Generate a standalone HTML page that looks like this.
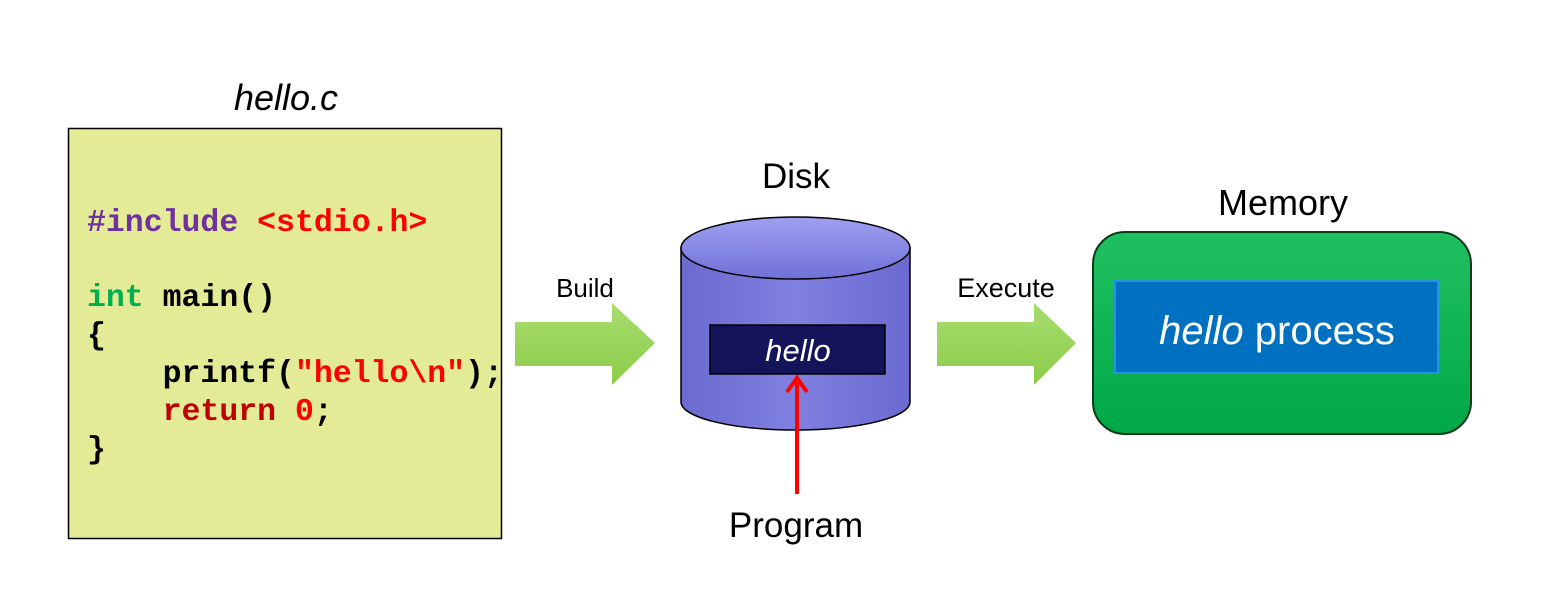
<!DOCTYPE html>
<html><head><meta charset="utf-8"><style>
body{margin:0;background:#fff;}
svg{display:block}
</style></head><body>
<svg width="1556" height="613" viewBox="0 0 1556 613" xmlns="http://www.w3.org/2000/svg">
<defs>
<linearGradient id="cyl" x1="0" x2="1" y1="0" y2="0">
<stop offset="0" stop-color="#6a6ad0"/><stop offset="0.5" stop-color="#8080e0"/><stop offset="1" stop-color="#6a6ad0"/>
</linearGradient>
<linearGradient id="top" x1="0" x2="0" y1="0" y2="1">
<stop offset="0" stop-color="#a0a0f0"/><stop offset="1" stop-color="#7070d8"/>
</linearGradient>
<linearGradient id="grn" x1="0" x2="0" y1="0" y2="1">
<stop offset="0" stop-color="#a8dc70"/><stop offset="1" stop-color="#8ccc48"/>
</linearGradient>
<linearGradient id="mem" x1="0" x2="0" y1="0" y2="1">
<stop offset="0" stop-color="#20c060"/><stop offset="1" stop-color="#00a848"/>
</linearGradient>
</defs>
<rect x="68.5" y="128.5" width="433" height="410" fill="#e4eb96" stroke="#000" stroke-width="1.5"/>
<text x="286" y="110" font-family="Liberation Sans, sans-serif" font-size="36" font-style="italic" text-anchor="middle">hello.c</text>
<g font-family="Liberation Mono, monospace" font-weight="bold" font-size="31.5">
<text x="87" y="231"><tspan fill="#7030a0">#include</tspan> <tspan fill="#ff0000">&lt;stdio.h&gt;</tspan></text>
<text x="87" y="306"><tspan fill="#00b050">int</tspan> <tspan fill="#000">main()</tspan></text>
<text x="87" y="344" fill="#000">{</text>
<text x="87" y="382" fill="#000" xml:space="preserve">    printf(<tspan fill="#ff0000">"hello\n"</tspan>);</text>
<text x="87" y="420" fill="#c00000" xml:space="preserve">    return <tspan fill="#ff0000">0</tspan><tspan fill="#000">;</tspan></text>
<text x="87" y="458" fill="#000">}</text>
</g>
<polygon points="515,322 612,322 612,303 655,343 612,385 612,366 515,366" fill="url(#grn)"/>
<text x="585" y="297" font-family="Liberation Sans, sans-serif" font-size="26" text-anchor="middle">Build</text>
<polygon points="937,322 1034,322 1034,303 1076,343 1034,385 1034,366 937,366" fill="url(#grn)"/>
<text x="1006" y="297" font-family="Liberation Sans, sans-serif" font-size="27" text-anchor="middle">Execute</text>
<path d="M681,248 L681,402 A114.5,28 0 0 0 910,402 L910,248 Z" fill="url(#cyl)" stroke="#000" stroke-width="1.5"/>
<ellipse cx="795.5" cy="248" rx="114.5" ry="31" fill="url(#top)" stroke="#000" stroke-width="1.5"/>
<text x="796" y="188" font-family="Liberation Sans, sans-serif" font-size="35" text-anchor="middle">Disk</text>
<rect x="710" y="325" width="175" height="49" fill="#14145a" stroke="#000" stroke-width="1.5"/>
<text x="798" y="361" font-family="Liberation Sans, sans-serif" font-size="31" font-style="italic" fill="#fff" text-anchor="middle">hello</text>
<line x1="797" y1="494" x2="797" y2="382" stroke="#ff0000" stroke-width="4"/>
<polyline points="787,392 797,378 807,392" fill="none" stroke="#ff0000" stroke-width="4"/>
<text x="796" y="537" font-family="Liberation Sans, sans-serif" font-size="35" text-anchor="middle">Program</text>
<text x="1283" y="215" font-family="Liberation Sans, sans-serif" font-size="36" text-anchor="middle">Memory</text>
<rect x="1093" y="232" width="378" height="202" rx="32" fill="url(#mem)" stroke="#0a3a1a" stroke-width="2"/>
<rect x="1115" y="281" width="323" height="92" fill="#0070c0" stroke="#2a90e0" stroke-width="2"/>
<text x="1277" y="344" font-family="Liberation Sans, sans-serif" font-size="40" fill="#fff" text-anchor="middle"><tspan font-style="italic">hello</tspan> process</text>
</svg>
</body></html>
